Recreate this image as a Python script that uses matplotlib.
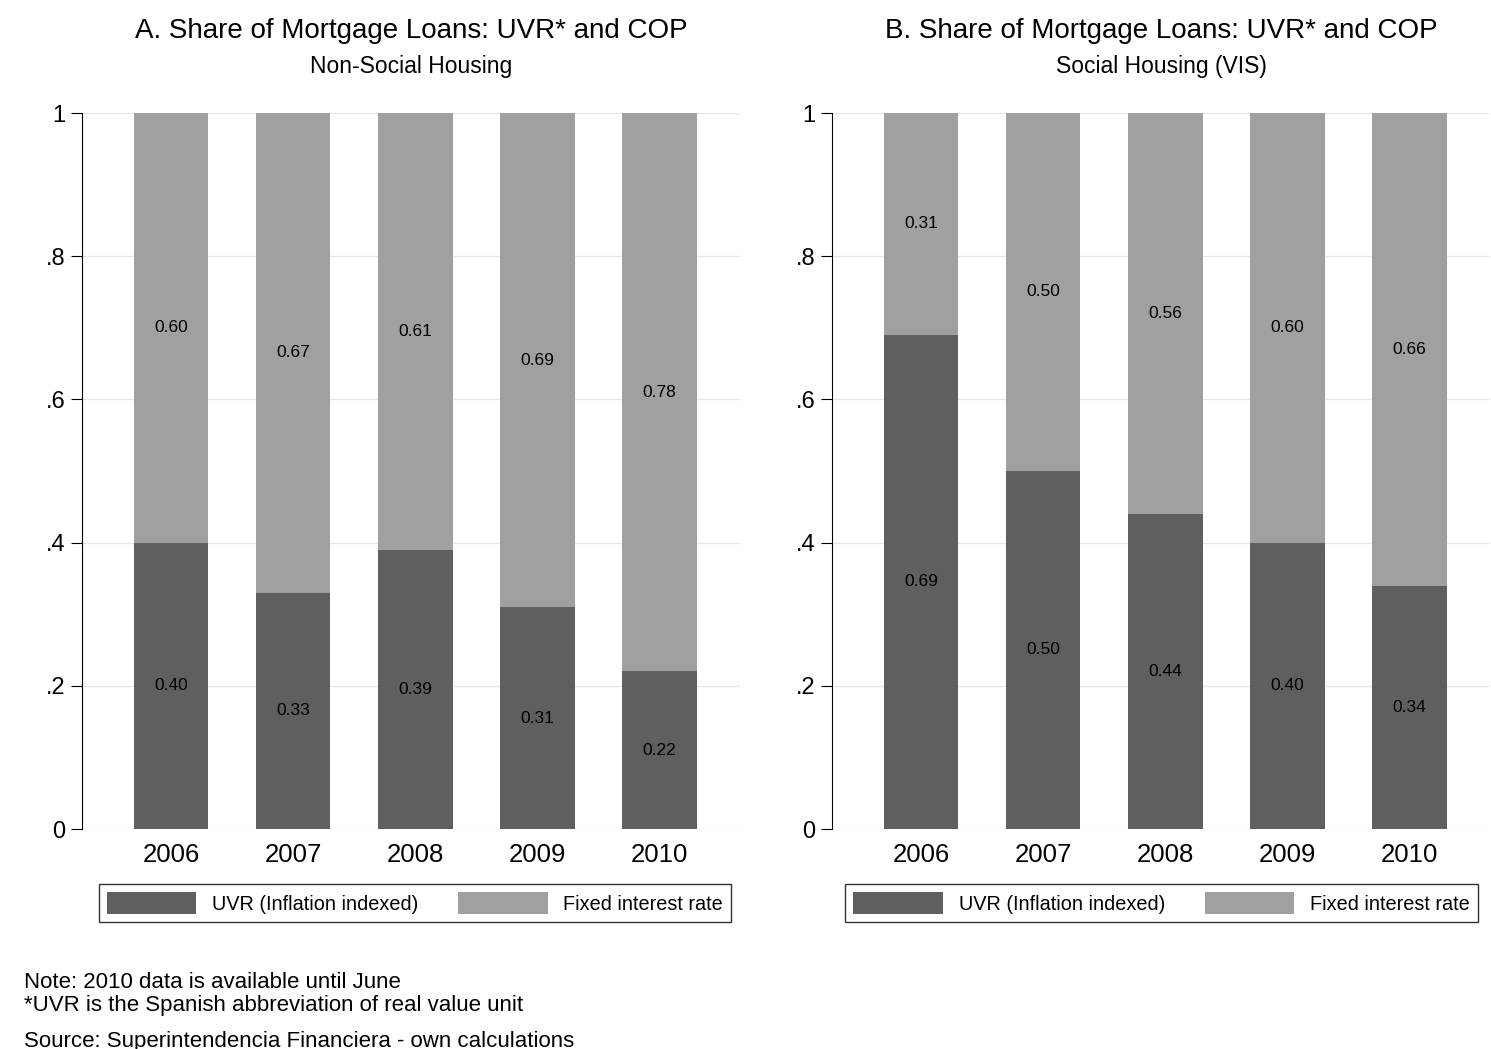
import matplotlib.pyplot as plt

plt.rcParams['font.family'] = ['Liberation Sans', 'DejaVu Sans']

years = ["2006", "2007", "2008", "2009", "2010"]
uvr_nonsocial = [0.40, 0.33, 0.39, 0.31, 0.22]
fixed_nonsocial = [0.60, 0.67, 0.61, 0.69, 0.78]
uvr_social = [0.69, 0.50, 0.44, 0.40, 0.34]
fixed_social = [0.31, 0.50, 0.56, 0.60, 0.66]

dark = "#5f5f5f"
light = "#a0a0a0"

fig = plt.figure(figsize=(14.91, 10.49), dpi=100)
W, H = 1491, 1049

panels = [
    (82, "A. Share of Mortgage Loans: UVR* and COP", "Non-Social Housing", uvr_nonsocial, fixed_nonsocial, 100, 730),
    (832, "B. Share of Mortgage Loans: UVR* and COP", "Social Housing (VIS)", uvr_social, fixed_social, 850, 1473),
]

for left, title, sub, uvr, fixed, lg0, lg1 in panels:
    ax = fig.add_axes([left / W, 1 - 829 / H, 658 / W, 716 / H])
    x = list(range(len(years)))
    b1 = ax.bar(x, uvr, width=0.61, color=dark, label="UVR (Inflation indexed)", zorder=3)
    b2 = ax.bar(x, fixed, width=0.61, bottom=uvr, color=light, label="Fixed interest rate", zorder=3)
    for i in x:
        ax.text(i, uvr[i] / 2, f"{uvr[i]:.2f}", ha="center", va="center", fontsize=12.5, zorder=4)
        ax.text(i, uvr[i] + fixed[i] / 2, f"{fixed[i]:.2f}", ha="center", va="center", fontsize=12.5, zorder=4)
    ax.set_xlim(-0.73, 4.66)
    ax.set_ylim(0, 1)
    ax.set_xticks(x)
    ax.set_xticklabels(years, fontsize=18.5)
    ax.set_yticks([0, 0.2, 0.4, 0.6, 0.8, 1])
    ax.set_yticklabels(["0", ".2", ".4", ".6", ".8", "1"], fontsize=17)
    ax.tick_params(axis="x", length=0, pad=10)
    ax.tick_params(axis="y", length=8, pad=4)
    ax.grid(axis="y", color="#e6e6e6", linewidth=1, zorder=0)
    for s in ["top", "right", "bottom"]:
        ax.spines[s].set_visible(False)
    cx = (left + 329) / W
    fig.text(cx, 1 - 31 / H, title, ha="center", va="center", fontsize=20)
    fig.text(cx, 1 - 67 / H, sub, ha="center", va="center", fontsize=16.5)
    leg = fig.legend(handles=[b1, b2], loc="center",
                     bbox_to_anchor=((lg0 + lg1) / 2 / W, 1 - 903 / H),
                     ncol=2, fontsize=14.3, frameon=True, fancybox=False, edgecolor="black",
                     handlelength=4.5, handleheight=1.3, columnspacing=2.0, borderpad=0.4)
    leg.get_frame().set_linewidth(1)

fig.text(24 / W, 1 - 982 / H, "Note: 2010 data is available until June", fontsize=16, va="center")
fig.text(24 / W, 1 - 1006 / H, "*UVR is the Spanish abbreviation of real value unit", fontsize=16, va="center")
fig.text(24 / W, 1 - 1041 / H, "Source: Superintendencia Financiera - own calculations", fontsize=16, va="center")

fig.savefig("out.png", dpi=100, facecolor="white")
